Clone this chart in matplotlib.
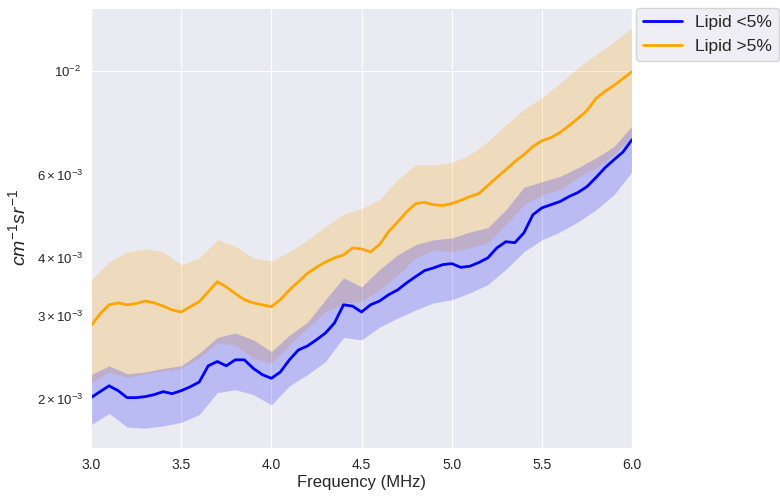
import matplotlib
matplotlib.use("Agg")
import matplotlib.pyplot as plt
import seaborn as sns
import numpy as np

# mean curves, 0.05 MHz steps
freq = np.round(np.arange(3.0, 6.0001, 0.05), 2)
lipid_low = [2.01, 2.07, 2.13, 2.08, 2.01, 2.01, 2.02, 2.04, 2.07, 2.05,
             2.08, 2.12, 2.17, 2.35, 2.40, 2.35, 2.42, 2.42, 2.32, 2.25,
             2.21, 2.28, 2.42, 2.54, 2.59, 2.67, 2.76, 2.90, 3.17, 3.15,
             3.06, 3.17, 3.23, 3.33, 3.41, 3.53, 3.64, 3.75, 3.80, 3.86,
             3.88, 3.81, 3.83, 3.90, 3.99, 4.19, 4.32, 4.30, 4.51, 4.93,
             5.10, 5.18, 5.26, 5.39, 5.50, 5.66, 5.92, 6.21, 6.46, 6.71,
             7.13]
lipid_high = [2.86, 3.03, 3.17, 3.20, 3.17, 3.19, 3.23, 3.20, 3.15, 3.09,
              3.06, 3.14, 3.22, 3.38, 3.55, 3.46, 3.35, 3.25, 3.20, 3.17,
              3.14, 3.25, 3.41, 3.55, 3.70, 3.81, 3.91, 3.99, 4.05, 4.19,
              4.17, 4.11, 4.26, 4.54, 4.76, 5.00, 5.21, 5.24, 5.18, 5.16,
              5.21, 5.29, 5.39, 5.47, 5.69, 5.92, 6.15, 6.40, 6.62, 6.89,
              7.09, 7.20, 7.38, 7.63, 7.91, 8.22, 8.72, 9.03, 9.30, 9.62,
              9.95]

# spread bands, 0.1 MHz steps
band_freq = np.round(np.arange(3.0, 6.0001, 0.1), 1)
low_upper = [2.25, 2.35, 2.26, 2.28, 2.32, 2.35, 2.50, 2.70, 2.76, 2.67,
             2.52, 2.73, 2.91, 3.25, 3.62, 3.46, 3.77, 4.05, 4.26, 4.36,
             4.40, 4.53, 4.63, 5.05, 5.64, 5.80, 5.95, 6.21, 6.52, 6.89,
             7.63]
low_lower = [1.76, 1.86, 1.74, 1.73, 1.75, 1.78, 1.85, 2.06, 2.09, 2.04,
             1.94, 2.13, 2.25, 2.40, 2.70, 2.67, 2.84, 2.97, 3.09, 3.20,
             3.25, 3.36, 3.50, 3.77, 4.11, 4.36, 4.53, 4.76, 5.05, 5.44,
             6.09]
high_upper = [3.58, 3.91, 4.11, 4.17, 4.11, 3.86, 3.99, 4.36, 4.23, 3.99,
              3.93, 4.11, 4.36, 4.65, 4.95, 5.08, 5.31, 5.86, 6.30, 6.30,
              6.37, 6.62, 7.06, 7.67, 8.26, 8.76, 9.39, 10.15, 10.81, 11.53,
              12.35]
high_lower = [2.16, 2.28, 2.22, 2.26, 2.29, 2.32, 2.44, 2.63, 2.60, 2.44,
              2.38, 2.60, 2.83, 3.06, 3.20, 3.22, 3.41, 3.67, 3.99, 4.15,
              4.11, 4.19, 4.29, 4.69, 5.18, 5.44, 5.58, 5.92, 6.21, 6.62,
              7.27]

scale = 1e-3

sns.set_style("darkgrid")
plt.rcParams["font.family"] = ["Liberation Sans", "DejaVu Sans"]
plt.rcParams["mathtext.fontset"] = "custom"
plt.rcParams["mathtext.rm"] = "Liberation Sans"
plt.rcParams["mathtext.it"] = "Liberation Sans:italic"

fig = plt.figure(figsize=(7.8, 5), dpi=100)
ax = fig.add_axes([0.1167, 0.104, 0.6936, 0.88])

ax.fill_between(band_freq, np.array(high_lower) * scale, np.array(high_upper) * scale,
                color="orange", alpha=0.22, linewidth=0)
ax.fill_between(band_freq, np.array(low_lower) * scale, np.array(low_upper) * scale,
                color="blue", alpha=0.2, linewidth=0)
ax.plot(freq, np.array(lipid_low) * scale, color="blue", linewidth=2,
        solid_joinstyle="round", label="Lipid <5%")
ax.plot(freq, np.array(lipid_high) * scale, color="orange", linewidth=2,
        solid_joinstyle="round", label="Lipid >5%")

ax.set_yscale("log")
ax.set_xlim(3.0, 6.0)
ax.set_ylim(0.00157, 0.0136)
ax.tick_params(axis="x", labelsize=10)
ax.tick_params(axis="y", which="both", labelsize=9.5)
ax.set_xlabel("Frequency (MHz)", fontsize=12, labelpad=2)
ax.set_ylabel("$cm^{-1}sr^{-1}$", fontsize=14, labelpad=6)

ax.legend(loc="upper left", bbox_to_anchor=(1.008, 1.0), borderaxespad=0,
          fontsize=12.5, handlelength=2.2)

fig.savefig("out.png", dpi=100)
